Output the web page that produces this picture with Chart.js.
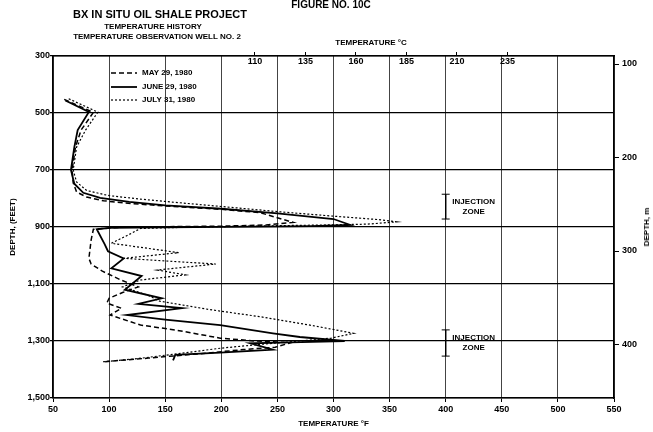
<!DOCTYPE html>
<html><head><meta charset="utf-8">
<script src="https://cdn.jsdelivr.net/npm/chart.js@4/dist/chart.umd.min.js"></script>
<style>
body{margin:0;background:#fff;}
#wrap{position:relative;width:653px;height:432px;font-family:"Liberation Sans",Arial,sans-serif;font-weight:bold;color:#000;}
.t{position:absolute;transform:translate(-50%,-50%);white-space:nowrap;line-height:1;}
.r{transform:translate(-50%,-50%) rotate(-90deg);}
canvas{position:absolute;left:0;top:0;}
</style></head><body>
<div id="wrap">
<canvas id="c" width="653" height="432"></canvas>
<div class="t" style="left:331px;top:5px;font-size:10px">FIGURE NO. 10C</div>
<div class="t" style="left:160px;top:14px;font-size:11px">BX IN SITU OIL SHALE PROJECT</div>
<div class="t" style="left:153px;top:27px;font-size:8px">TEMPERATURE HISTORY</div>
<div class="t" style="left:157px;top:37px;font-size:8px">TEMPERATURE OBSERVATION WELL NO. 2</div>
<div class="t" style="left:371px;top:43px;font-size:8px">TEMPERATURE °C</div>
<div class="t r" style="left:647px;top:227px;font-size:8px">DEPTH, m</div>
</div>
<script>
// ---- data (temperature °F, depth ft) ----
const seriesLabels = ['MAY 29, 1980', 'JUNE 29, 1980', 'JULY 31, 1980'];
const mayTemp  = [60, 86, 75, 70, 67, 68, 71, 80, 95, 120, 150, 200, 235, 264, 240, 200, 150, 110, 86, 84, 82, 84, 94, 110, 126, 112, 100, 98, 111, 101, 128, 160, 199, 230, 262, 248, 220, 180, 135, 95];
const mayDepth = [452, 498, 560, 620, 700, 745, 777, 795, 808, 818, 826, 838, 850, 884, 893, 897, 899, 901, 908, 945, 1010, 1030, 1055, 1085, 1110, 1130, 1150, 1167, 1185, 1209, 1244, 1262, 1290, 1300, 1306, 1322, 1330, 1345, 1360, 1373];
const junTemp  = [61, 82, 72, 69, 66, 69, 77, 92, 118, 150, 200, 250, 300, 315, 280, 230, 150, 100, 89, 96, 99, 113, 102, 129, 114, 147, 126, 165, 116, 150, 199, 246, 270, 310, 262, 226, 246, 199, 159, 157];
const junDepth = [456, 496, 560, 620, 700, 748, 780, 798, 812, 824, 836, 852, 872, 893, 897, 899, 901, 903, 908, 960, 985, 1010, 1045, 1072, 1120, 1150, 1170, 1185, 1209, 1225, 1244, 1273, 1286, 1300, 1305, 1308, 1330, 1341, 1349, 1368];
const julTemp  = [64, 90, 79, 71, 68, 71, 80, 100, 130, 163, 200, 250, 300, 340, 356, 330, 290, 240, 180, 128, 117, 102, 162, 113, 195, 143, 168, 128, 112, 135, 145, 190, 235, 280, 318, 298, 270, 240, 200, 160, 125, 94];
const julDepth = [450, 497, 560, 620, 700, 742, 772, 790, 803, 815, 828, 846, 862, 874, 882, 890, 893, 896, 900, 905, 928, 957, 990, 1010, 1030, 1051, 1068, 1086, 1110, 1140, 1160, 1190, 1215, 1245, 1273, 1290, 1300, 1310, 1325, 1345, 1362, 1373];
const injectionTemp = 400;
const injectionZone1 = [785, 872];
const injectionZone2 = [1261, 1353];
const injectionText = ['INJECTION', 'ZONE'];
const celsiusTicks = [110, 135, 160, 185, 210, 235];
const meterTicks = [100, 200, 300, 400];
const tempMinF = 50, tempMaxF = 550, depthMinFt = 300, depthMaxFt = 1500;

const FONT = '"Liberation Sans", Arial, sans-serif';
const f2c = f => (f - 32) / 1.8;
const ft2m = d => d * 0.3048;
const pts = (t, d) => t.map((v, i) => ({x: v, y: d[i]}));
const zonePts = z => z.map(d => ({x: injectionTemp, y: d}));

const tickFont = {family: FONT, size: 9, weight: 'bold'};
const titleFont = {family: FONT, size: 8, weight: 'bold'};

const annot = {
  id: 'annot',
  afterDatasetsDraw(chart) {
    const ctx = chart.ctx, ca = chart.chartArea;
    const xs = chart.scales.x, ys = chart.scales.y, xc = chart.scales.x2;
    ctx.save();
    ctx.fillStyle = '#000';
    ctx.strokeStyle = '#000';
    ctx.textBaseline = 'middle';
    // Celsius tick labels (inside the top border)
    ctx.font = 'bold 9px ' + FONT;
    ctx.textAlign = 'center';
    xc.ticks.forEach(t => {
      ctx.fillText(String(t.value), xc.getPixelForValue(t.value), ca.top + 6);
    });
    ctx.font = 'bold 8px ' + FONT;
    // legend
    const rows = [73, 87, 100];
    for (let i = 0; i < 3; i++) {
      const ds = chart.data.datasets[i];
      ctx.setLineDash(ds.borderDash || []);
      ctx.lineWidth = ds.borderWidth;
      ctx.beginPath();
      ctx.moveTo(ca.left + 58, rows[i]);
      ctx.lineTo(ca.left + 84, rows[i]);
      ctx.stroke();
      ctx.setLineDash([]);
      ctx.textAlign = 'left';
      ctx.fillText(ds.label, ca.left + 89, rows[i]);
    }
    // injection zone labels
    ctx.textAlign = 'center';
    [injectionZone1, injectionZone2].forEach(z => {
      const cx = xs.getPixelForValue(injectionTemp) + 28;
      const cy = ys.getPixelForValue((z[0] + z[1]) / 2);
      ctx.fillText(injectionText[0], cx, cy - 5);
      ctx.fillText(injectionText[1], cx, cy + 5);
    });
    ctx.restore();
  }
};

const lineDs = (label, t, d, dash, w) => ({
  label, data: pts(t, d), showLine: true, borderColor: '#000', backgroundColor: '#000',
  borderWidth: w, borderDash: dash, pointRadius: 0, tension: 0, xAxisID: 'x', yAxisID: 'y'
});
const zoneDs = z => ({
  label: 'zone', data: zonePts(z), showLine: true, borderColor: '#000', borderWidth: 1,
  pointStyle: 'line', pointRadius: 4, pointBorderWidth: 1, pointBorderColor: '#000', xAxisID: 'x', yAxisID: 'y'
});

new Chart(document.getElementById('c'), {
  type: 'scatter',
  data: {datasets: [
    lineDs(seriesLabels[0], mayTemp, mayDepth, [5, 3], 1.5),
    lineDs(seriesLabels[1], junTemp, junDepth, [], 1.8),
    lineDs(seriesLabels[2], julTemp, julDepth, [2, 2], 1.2),
    zoneDs(injectionZone1),
    zoneDs(injectionZone2)
  ]},
  options: {
    responsive: false, animation: false,
    layout: {padding: 0},
    plugins: {legend: {display: false}, tooltip: {enabled: false}},
    scales: {
      x: {
        type: 'linear', axis: 'x', position: 'bottom', min: tempMinF, max: tempMaxF,
        ticks: {stepSize: 50, font: tickFont, color: '#000', padding: 2, maxRotation: 0, autoSkip: false},
        grid: {color: '#444', lineWidth: 1, tickLength: 4, tickColor: '#000'},
        border: {color: '#000', width: 1.5},
        title: {display: true, text: 'TEMPERATURE °F', font: titleFont, color: '#000', padding: {top: 0, bottom: 3}},
        afterFit(s) { s.height = 34; }
      },
      x2: {
        type: 'linear', axis: 'x', position: 'top', min: f2c(tempMinF), max: f2c(tempMaxF),
        afterBuildTicks(s) { s.ticks = celsiusTicks.map(v => ({value: v})); },
        ticks: {display: false},
        grid: {drawOnChartArea: false, tickLength: 4, color: '#000'},
        border: {color: '#000', width: 1.5},
        afterFit(s) { s.height = 56; }
      },
      y: {
        type: 'linear', axis: 'y', position: 'left', reverse: true, min: depthMinFt, max: depthMaxFt,
        ticks: {stepSize: 200, font: tickFont, color: '#000', padding: 0, callback: v => v.toLocaleString('en-US')},
        grid: {color: '#000', lineWidth: 1.3, tickLength: 3},
        border: {color: '#000', width: 1.5},
        title: {display: true, text: 'DEPTH, (FEET)', font: titleFont, color: '#000', padding: {top: 8, bottom: 0}},
        afterFit(s) { s.width = 53; }
      },
      y2: {
        type: 'linear', axis: 'y', position: 'right', reverse: true, min: ft2m(depthMinFt), max: ft2m(depthMaxFt),
        afterBuildTicks(s) { s.ticks = meterTicks.map(v => ({value: v})); },
        ticks: {font: tickFont, color: '#000', padding: 3},
        grid: {drawOnChartArea: false, tickLength: 5, color: '#000'},
        border: {color: '#000', width: 1.5},
        afterFit(s) { s.width = 39; }
      }
    }
  },
  plugins: [annot]
});
</script>
</body></html>
